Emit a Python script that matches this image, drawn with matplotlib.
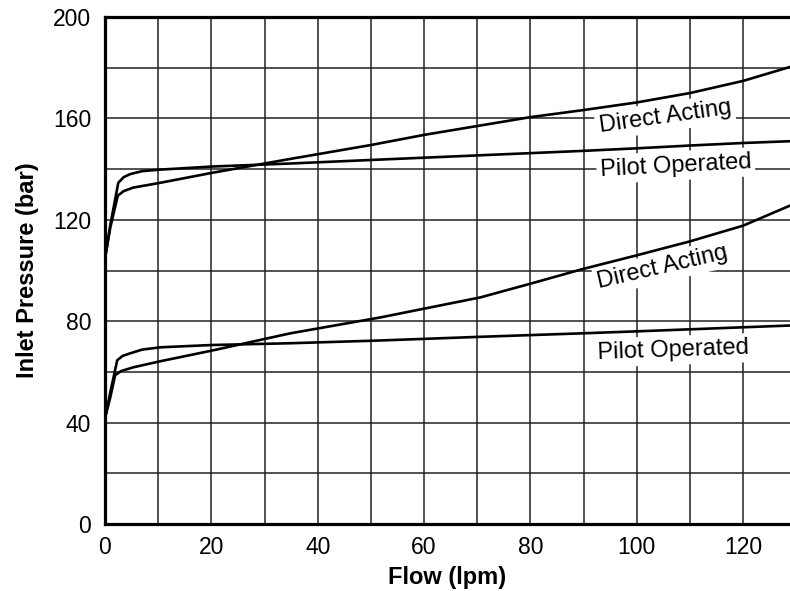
import matplotlib.pyplot as plt
import numpy as np

plt.rcParams['font.family'] = ['Liberation Sans', 'DejaVu Sans']

# Flow (lpm) vs inlet pressure (bar)
da_hi_flow = [0, 1, 2.4, 3.5, 5.3, 10.4, 20.3, 34.8, 50, 60, 70, 80, 90, 100, 110, 120, 128.8]
da_hi_bar = [104.7, 117, 129.5, 131.3, 132.7, 134.6, 138.6, 144, 149.5, 153.5, 157, 160.5, 163.3, 166.3, 170, 174.8, 180.3]

po_hi_flow = [0, 1, 2.5, 3.5, 4.7, 7, 10.4, 20, 34.8, 50, 60, 70, 80, 90, 100, 110, 120, 128.8]
po_hi_bar = [104.7, 118, 134.6, 136.8, 138, 139.2, 139.8, 141, 142.2, 143.6, 144.5, 145.4, 146.3, 147.2, 148.2, 149.3, 150.3, 151]

da_lo_flow = [0, 1, 1.9, 3, 5.3, 10.4, 20.3, 34.8, 51.8, 70.6, 80, 89.5, 100, 110, 120, 128.8]
da_lo_bar = [41.7, 50, 58.7, 60.3, 61.8, 64.2, 68.5, 75.2, 81.5, 89.4, 94.8, 100.4, 106, 111.5, 117.7, 125.6]

po_lo_flow = [0, 1, 2.3, 3.3, 4.7, 7, 10.4, 20, 34.8, 51.8, 70, 89.5, 100, 110, 120, 128.8]
po_lo_bar = [41.7, 52, 64.6, 66.3, 67.3, 68.8, 69.7, 70.6, 71.3, 72.4, 73.8, 75.2, 76, 76.8, 77.6, 78.3]

# label text, flow, bar, rotation
curve_labels = [
    ('Direct Acting', 105.3, 160.6, 8),
    ('Pilot Operated', 107.3, 141.3, 3),
    ('Direct Acting', 104.9, 101.2, 13),
    ('Pilot Operated', 106.9, 68.5, 2),
]

fig = plt.figure(figsize=(7.9, 5.91), dpi=100)
ax = fig.add_axes([105 / 790, 1 - 524 / 591, 685 / 790, 507 / 591])

for fx, py in [(da_hi_flow, da_hi_bar), (po_hi_flow, po_hi_bar),
               (da_lo_flow, da_lo_bar), (po_lo_flow, po_lo_bar)]:
    ax.plot(fx, py, color='black', lw=1.9, zorder=3)

for txt, fx, py, rot in curve_labels:
    ax.text(fx, py, txt, fontsize=17, rotation=rot, ha='center', va='center',
            rotation_mode='anchor', zorder=4,
            bbox=dict(facecolor='white', edgecolor='none', pad=2.5))

ax.set_xlim(0, 128.8)
ax.set_ylim(0, 200)
ax.set_xticks(np.arange(0, 121, 20))
ax.set_xticks(np.arange(10, 128, 20), minor=True)
ax.set_yticks(np.arange(0, 201, 40))
ax.set_yticks(np.arange(20, 200, 40), minor=True)
ax.grid(True, which='both', color='#222222', lw=1.1, zorder=1)
ax.set_axisbelow(True)
ax.tick_params(which='both', length=0, labelsize=16.5)
ax.tick_params(axis='x', pad=9)
ax.tick_params(axis='y', pad=10)

for side in ['left', 'bottom', 'top']:
    ax.spines[side].set_linewidth(2.3)
ax.spines['right'].set_visible(False)

ax.set_xlabel('Flow (lpm)', fontsize=17, fontweight='bold', labelpad=5)
ax.set_ylabel('Inlet Pressure (bar)', fontsize=17, fontweight='bold', labelpad=10)

fig.savefig('out.png', dpi=100)
